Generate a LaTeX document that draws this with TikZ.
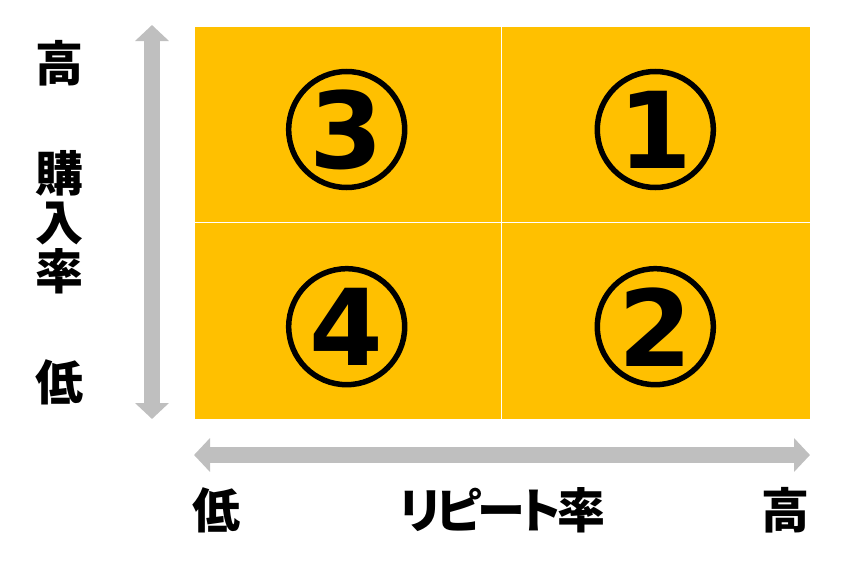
\documentclass[tikz,border=0pt]{standalone}
\usepackage{fontspec}
\newfontfamily\jpfont{Noto Sans CJK JP}
\newfontfamily\jppfont{Noto Sans CJK JP}[RawFeature=+palt,LetterSpace=-8]
\newfontfamily\numfont{DejaVu Sans}
\usetikzlibrary{arrows.meta,positioning}
\definecolor{quadorange}{HTML}{FFC000}
\definecolor{axisgray}{HTML}{BFBFBF}
\tikzstyle{quadrant}=[fill=quadorange,draw=white,line width=1pt,inner sep=0pt]
\tikzstyle{numring}=[circle,draw=black,line width=5.5pt,minimum size=116pt,inner sep=0pt,font=\numfont\bfseries\fontsize{106}{106}\selectfont]
\tikzstyle{axislabel}=[font=\jpfont\bfseries\fontsize{48}{49}\selectfont,inner sep=0pt,align=center]

\begin{document}
\begin{tikzpicture}[x=1pt,y=-1pt]
        \tikzstyle{every edge}=[draw,axisgray,line width=16.5pt,
        {Triangle[width=33pt,length=16pt]}-{Triangle[width=33pt,length=16pt]}]
        \useasboundingbox (0,0) rectangle (841,570);
        % Quadrants:
        \node (q_3) [quadrant,minimum width=307pt,minimum height=196pt] at (347.5,124) {};
        \node (q_1) [quadrant,minimum width=309pt,minimum height=196pt] at (655.5,124) {};
        \node (q_4) [quadrant,minimum width=307pt,minimum height=197pt] at (347.5,320.5) {};
        \node (q_2) [quadrant,minimum width=309pt,minimum height=197pt] at (655.5,320.5) {};
        % Numbers:
        \node (n_3) [numring] at (346.7,129.5) {3};
        \node (n_1) [numring] at (655.3,129.5) {1};
        \node (n_4) [numring] at (346.7,326.7) {4};
        \node (n_2) [numring] at (655.3,326.7) {2};
        % Vertical axis:
        \coordinate (y_bot) at (152,419);
        \coordinate (y_top) at (152,25);
        \node (y_hi) [axislabel] at (59,63.5) {高};
        \node (y_name) [axislabel] at (59,222) {購\\入\\率};
        \node (y_lo) [axislabel] at (59,382) {低};
        % Horizontal axis:
        \coordinate (x_left) at (194,455);
        \coordinate (x_right) at (810,455);
        \node (x_lo) [axislabel] at (216,510) {低};
        \node (x_name) [axislabel,font=\jppfont\bfseries\fontsize{48}{49}\selectfont] at (502.5,510) {リピート率};
        \node (x_hi) [axislabel] at (785.5,510) {高};

        \path
        (y_bot) edge (y_top)
        (x_left) edge (x_right);
\end{tikzpicture}
\end{document}
